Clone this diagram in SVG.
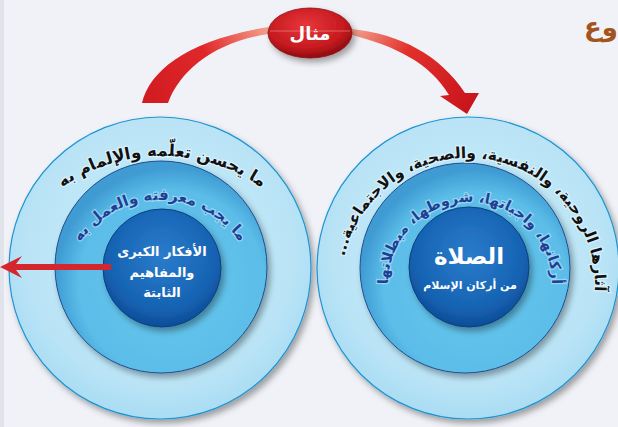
<svg xmlns="http://www.w3.org/2000/svg" width="618" height="427" viewBox="0 0 618 427">
<style>
.ar{font-family:"DejaVu Sans",sans-serif;font-weight:bold;}
.outerTxt{fill:#111;stroke:#e8f7ff;stroke-width:2.5px;stroke-opacity:0.7;paint-order:stroke;}
.midTxt{fill:#1f3f95;stroke:#bfe6fa;stroke-width:2.5px;stroke-opacity:0.6;paint-order:stroke;}
.inTxt{fill:#fff;text-anchor:middle;}
.ring1{fill:url(#gOuter);stroke:#1f95d2;stroke-width:1.2;}
.ring2{fill:url(#gMid);stroke:#1d4f8e;stroke-width:1;}
.ring3{fill:url(#gIn);stroke:#0d3f80;stroke-width:1;}
</style>
<defs>
<radialGradient id="gOuter" cx="50%" cy="45%" r="55%">
<stop offset="0" stop-color="#c8ecfa"/><stop offset="0.8" stop-color="#bae4f6"/><stop offset="1" stop-color="#a9dcf3"/>
</radialGradient>
<radialGradient id="gMid" cx="55%" cy="58%" r="55%">
<stop offset="0" stop-color="#69c8ee"/><stop offset="0.8" stop-color="#5bbde8"/><stop offset="1" stop-color="#3f9bd3"/>
</radialGradient>
<radialGradient id="gIn" cx="50%" cy="40%" r="60%">
<stop offset="0" stop-color="#2a7ccb"/><stop offset="0.75" stop-color="#1663b3"/><stop offset="1" stop-color="#0d4c96"/>
</radialGradient>
<radialGradient id="gOval" cx="45%" cy="35%" r="65%">
<stop offset="0" stop-color="#e8363a"/><stop offset="0.7" stop-color="#c51a20"/><stop offset="1" stop-color="#8e0b10"/>
</radialGradient>
<linearGradient id="gArcL" x1="142" y1="103" x2="268" y2="30" gradientUnits="userSpaceOnUse">
<stop offset="0" stop-color="#cf1a20"/><stop offset="0.55" stop-color="#e0282a"/><stop offset="1" stop-color="#f3a08c"/>
</linearGradient>
<linearGradient id="gArcR" x1="352" y1="32" x2="470" y2="110" gradientUnits="userSpaceOnUse">
<stop offset="0" stop-color="#f3a08c"/><stop offset="0.4" stop-color="#e2302c"/><stop offset="1" stop-color="#c8141c"/>
</linearGradient>
<filter id="sh" x="-20%" y="-20%" width="140%" height="140%">
<feDropShadow dx="3" dy="4" stdDeviation="3" flood-color="#000" flood-opacity="0.35"/>
</filter>
<path id="pRO" d="M468,412 A127,127 0 0 1 468,158 A127,127 0 0 1 468,412"/>
<path id="pRM" d="M470,366 A82,82 0 0 1 470,202 A82,82 0 0 1 470,366"/>
<path id="pLO" d="M162,502 A173,173 0 0 1 162,156 A173,173 0 0 1 162,502"/>
<path id="pLM" d="M160,394 A97,97 0 0 1 160,200 A97,97 0 0 1 160,394"/>
</defs>
<rect width="618" height="427" fill="#f1f2f7"/>
<rect width="4" height="427" fill="#e1e3ea"/>

<g id="title">
<text class="ar" x="584" y="36" font-size="26" fill="#a3541c">وع</text>
</g>

<g id="left-circle">
<circle class="ring1" cx="160" cy="268" r="151" filter="url(#sh)"/>
<circle class="ring2" cx="161" cy="267" r="106" filter="url(#sh)"/>
<circle class="ring3" cx="162" cy="268" r="59" filter="url(#sh)"/>
<text class="ar outerTxt" direction="rtl" font-size="16.5" text-anchor="middle"><textPath href="#pLO" startOffset="50%">ما يحسن تعلّمه والإلمام به</textPath></text>
<text class="ar midTxt" direction="rtl" font-size="15" text-anchor="middle"><textPath href="#pLM" startOffset="50%">ما يجب معرفته والعمل به</textPath></text>
<text class="ar inTxt" direction="rtl" font-size="13"><tspan x="162" y="256">الأفكار الكبرى</tspan><tspan x="162" y="277">والمفاهيم</tspan><tspan x="162" y="297">الثابتة</tspan></text>
</g>

<g id="right-circle">
<circle class="ring1" cx="468" cy="268" r="151" filter="url(#sh)"/>
<circle class="ring2" cx="465" cy="268" r="105" filter="url(#sh)"/>
<circle class="ring3" cx="469" cy="267" r="60" filter="url(#sh)"/>
<text class="ar outerTxt" direction="rtl" font-size="15.5" text-anchor="middle"><textPath href="#pRO" startOffset="52.2%">آثارها الروحية، والنفسية، والصحية، والاجتماعية...</textPath></text>
<text class="ar midTxt" direction="rtl" font-size="14.5" text-anchor="middle"><textPath href="#pRM" startOffset="50%">أركانها، واجباتها، شروطها، مبطلاتها</textPath></text>
<text class="ar inTxt" direction="rtl" x="469" y="264" font-size="23">الصلاة</text>
<text class="ar inTxt" direction="rtl" x="470" y="289" font-size="11">من أركان الإسلام</text>
</g>

<g id="connectors">
<path d="M142,103 C150,70 188,40 268,27 L268,34 C215,42 180,70 168,103 Z" fill="url(#gArcL)"/>
<path d="M352,29 C400,34 440,55 465,93 L479,93 L467,114 L440,96 L449,95 C430,63 395,46 352,35 Z" fill="url(#gArcR)"/>
<path d="M0,267 L22,256 L16,264 L111,264 L111,270 L16,270 L22,278 Z" fill="#d4262c"/>
</g>

<g id="example-node">
<ellipse cx="310" cy="33" rx="42" ry="25" fill="url(#gOval)" stroke="#8a0a0e" stroke-width="0.8" filter="url(#sh)"/>
<line x1="270" y1="31" x2="350" y2="31" stroke="#f6b3a8" stroke-width="0.8" stroke-opacity="0.6"/>
<text class="ar" direction="rtl" x="310" y="40" font-size="18" fill="#fff" text-anchor="middle">مثال</text>
</g>
</svg>
